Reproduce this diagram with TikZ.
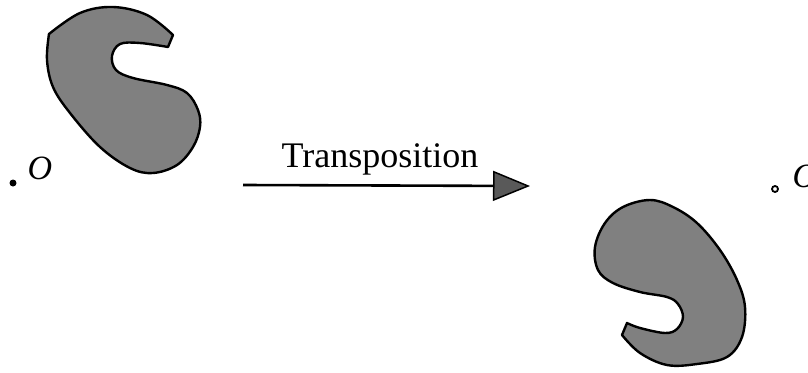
\documentclass[tikz,border=0pt]{standalone}
\usepackage{fontspec}
\setmainfont{Liberation Serif}
\usetikzlibrary{arrows.meta}
\definecolor{blobgray}{RGB}{128,128,128}
\tikzset{
  blob/.style={draw=black, line width=2.4pt, fill=blobgray, line join=round},
  lbl/.style={inner sep=0pt, font=\fontsize{34}{36}\selectfont\itshape},
}
\begin{document}
\begin{tikzpicture}[x=1pt,y=-1pt]
\useasboundingbox (0,0) rectangle (808,372);
% left shape
\draw[blob] (173,35) -- (168,47) -- plot[smooth, tension=0.6] coordinates {(168,47) (140,43) (120,44) (112,56) (116,70) (133,78) (167,85) (187,93) (198,110) (200,127) (193,147) (177,165) (153,173) (130,168) (100,147) (70,113) (53,87) (47,60) (49,34)} -- plot[smooth, tension=0.6] coordinates {(49,34) (80,13) (113,7) (147,15) (173,35)} -- cycle;
% right shape
\draw[blob] (627,323) -- (622,335) -- plot[smooth, tension=0.6] coordinates {(622,335) (640,353) (667,365) (697,364) (727,357) (742,337) (745,307) (737,280) (720,250) (697,223) (673,207) (650,200) (623,207) (605,223) (595,247) (598,270) (613,283) (640,292) (667,297) (678,304) (683,317) (677,329) (665,333) (640,328) (627,323)} -- cycle;
% points O
\node[circle, fill=black, inner sep=0pt, minimum size=7pt] (o1) at (13,183) {};
\node[lbl] (l1) at (40,168) {O};
\node[circle, draw=black, line width=1.8pt, fill=white, inner sep=0pt, minimum size=6pt] (o2) at (775,189) {};
\node[lbl] (l2) at (805,176) {O};
% arrow
\coordinate (as) at (243,185);
\coordinate (ae) at (530,186);
\draw[line width=2.6pt, -{Triangle[length=37pt,width=30pt,fill=black!65,line width=1.5pt]}] (as) -- (ae);
\node[inner sep=0pt, anchor=base, font=\fontsize{36}{40}\selectfont] (t) at (380,167) {Transposition};
\end{tikzpicture}
\end{document}
